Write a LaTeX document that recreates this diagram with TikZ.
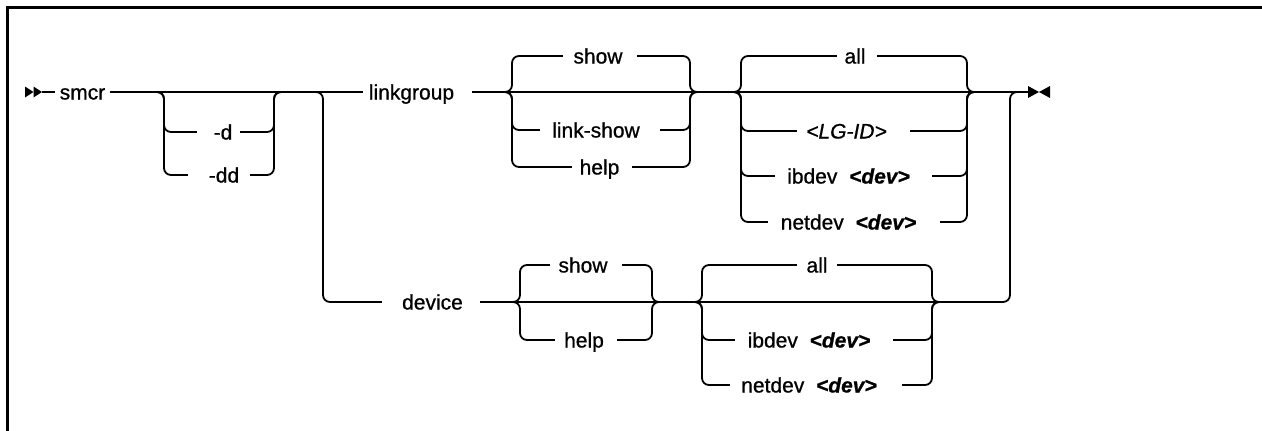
\documentclass[tikz,border=0pt]{standalone}
\usepackage{fontspec}
\setmainfont{Liberation Sans}[FakeBold=0.8]
\newcommand{\trail}[1]{\hspace*{#1pt}}
\begin{document}
\begin{tikzpicture}[x=1pt,y=-1pt,
  rail/.style={line width=1.8pt},
  rc/.style={rail, rounded corners=7pt},
  lbl/.style={inner sep=0pt, text height=15pt, text depth=0pt, font=\fontsize{21pt}{25pt}\selectfont},
  frameline/.style={line width=2.6pt},
]
\useasboundingbox (0,0) rectangle (1262,431);
% frame
\draw[frameline] (7.5,431) -- (7.5,7.5) -- (1262,7.5);

% start symbol and command
\coordinate (start) at (42,92);
\fill (25,86.5) -- (33.5,92) -- (25,97.5) -- cycle;
\fill (33.5,86.5) -- (start) -- (33.5,97.5) -- cycle;
\node[lbl, minimum width=55pt] (smcr) at (82.5,92) {smcr};
\draw[rail] (start) -- (smcr.west);

% -d / -dd
\coordinate (dL) at (157,92);
\coordinate (dLv) at (164,92);
\coordinate (dRv) at (274,92);
\coordinate (dR) at (281,92);
\node[lbl, minimum width=43pt] (d) at (218.5,132) {\trail{9}-d};
\node[lbl, minimum width=62pt] (dd) at (219,175) {\trail{10}-dd};
\draw[rc] (dL) -- (dLv) |- (d.west);
\draw[rc] (dL) -- (dLv) |- (dd.west);
\draw[rc] (d.east) -| (dRv) -- (dR);
\draw[rc] (dd.east) -| (dRv) -- (dR);

% linkgroup / device
\node[lbl, minimum width=109pt] (linkgroup) at (417.5,92) {linkgroup\trail{12}};
\node[lbl, minimum width=98pt] (device) at (431,302) {\trail{3}device};
\coordinate (bL) at (316,92);
\coordinate (bLv) at (323,92);
\draw[rail] (smcr.east) -- (linkgroup.west);
\draw[rc] (bL) -- (bLv) |- (device.west);

% linkgroup: show group
\coordinate (sL) at (505,92);
\coordinate (sLv) at (512,92);
\coordinate (sRv) at (690,92);
\coordinate (sR) at (697,92);
\node[lbl, minimum width=74pt] (lgshow) at (600,56) {show\trail{4}};
\node[lbl, minimum width=120pt] (lglinkshow) at (600,130) {link-show\trail{8}};
\node[lbl, minimum width=60pt] (lghelp) at (602,167) {help\trail{5}};
\draw[rail] (linkgroup.east) -- (sL) -- (sR);
\foreach \n in {lgshow,lglinkshow,lghelp}{
  \draw[rc] (sL) -- (sLv) |- (\n.west);
  \draw[rc] (\n.east) -| (sRv) -- (sR);
}

% linkgroup: all group
\coordinate (aL) at (734,92);
\coordinate (aLv) at (741,92);
\coordinate (aRv) at (967,92);
\coordinate (aR) at (974,92);
\node[lbl, minimum width=40pt] (lgall) at (857,56) {all\trail{4}};
\node[lbl, minimum width=113pt] (lgid) at (853.5,131) {\itshape <LG-ID>\trail{14}};
\node[lbl, minimum width=157pt] (lgib) at (853.5,176) {ibdev\ \ \textbf{\textit{<dev>}}\trail{10}};
\node[lbl, minimum width=172pt] (lgnet) at (854,222) {netdev\ \ \textbf{\textit{<dev>}}\trail{11}};
\draw[rail] (sR) -- (aL) -- (aR);
\foreach \n in {lgall,lgid,lgib,lgnet}{
  \draw[rc] (aL) -- (aLv) |- (\n.west);
  \draw[rc] (\n.east) -| (aRv) -- (aR);
}

% end symbol
\coordinate (endL) at (1028,92);
\coordinate (endM) at (1039,92);
\draw[rail] (aR) -- (endL);
\fill (1028,86) -- (endM) -- (1028,98) -- cycle;
\fill (1050,86) -- (endM) -- (1050,98) -- cycle;

% device: show group
\coordinate (dsL) at (513,302);
\coordinate (dsLv) at (520,302);
\coordinate (dsRv) at (652,302);
\coordinate (dsR) at (659,302);
\node[lbl, minimum width=72pt] (dvshow) at (586,265) {show\trail{6}};
\node[lbl, minimum width=62pt] (dvhelp) at (586,340) {help\trail{4}};
\draw[rail] (device.east) -- (dsL) -- (dsR);
\foreach \n in {dvshow,dvhelp}{
  \draw[rc] (dsL) -- (dsLv) |- (\n.west);
  \draw[rc] (\n.east) -| (dsRv) -- (dsR);
}

% device: all group
\coordinate (daL) at (695,302);
\coordinate (daLv) at (702,302);
\coordinate (daRv) at (932,302);
\coordinate (daR) at (939,302);
\node[lbl, minimum width=40pt] (dvall) at (817,265) {all};
\node[lbl, minimum width=158pt] (dvib) at (814,340) {ibdev\ \ \textbf{\textit{<dev>}}\trail{10}};
\node[lbl, minimum width=172pt] (dvnet) at (816,385) {netdev\ \ \textbf{\textit{<dev>}}\trail{14}};
\draw[rail] (dsR) -- (daL) -- (daR);
\foreach \n in {dvall,dvib,dvnet}{
  \draw[rc] (daL) -- (daLv) |- (\n.west);
  \draw[rc] (\n.east) -| (daRv) -- (daR);
}

% return to main line
\coordinate (rvB) at (1010,302);
\coordinate (rvT) at (1010,92);
\coordinate (rvE) at (1017,92);
\draw[rc] (daR) -- (rvB) -- (rvT) -- (rvE);
\end{tikzpicture}
\end{document}
